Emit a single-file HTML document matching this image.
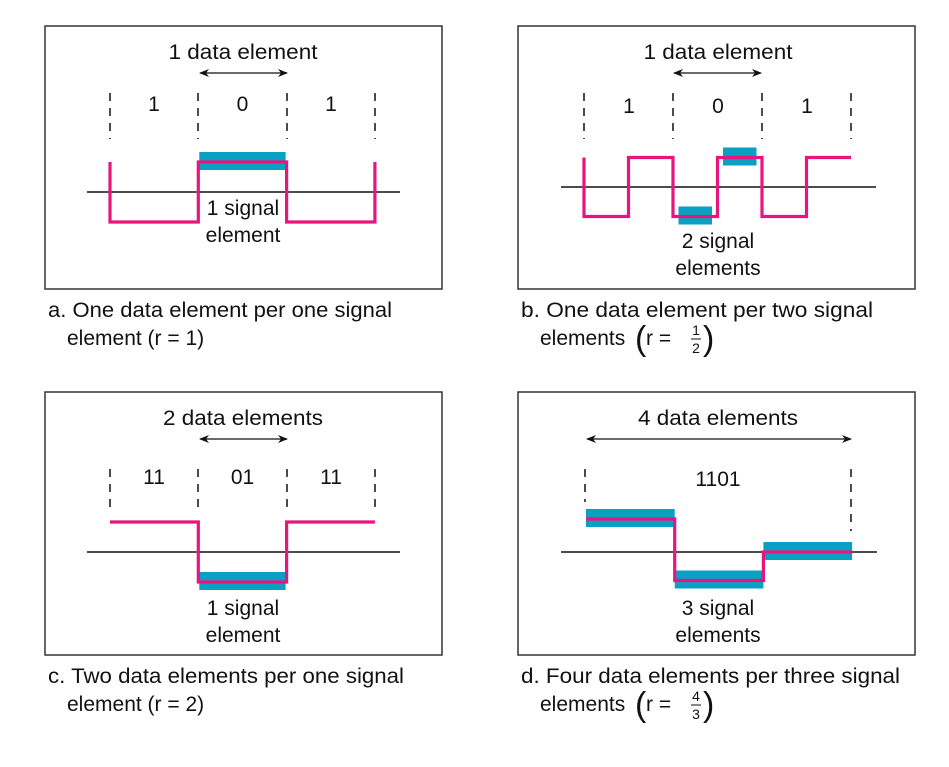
<!DOCTYPE html>
<html><head><meta charset="utf-8"><style>
html,body{margin:0;padding:0;background:#fff;}
svg{display:block;font-family:"Liberation Sans",sans-serif;}
</style></head><body>
<svg id="fig" width="949" height="767" viewBox="0 0 949 767">
<defs>
<marker id="ah" markerWidth="10" markerHeight="8" refX="9" refY="4" orient="auto-start-reverse" markerUnits="userSpaceOnUse"><path d="M0,0 L10,4 L0,8 L3,4 Z" fill="#111"/></marker>
</defs>
<g id="root"></g>
</svg>
<script>
// Signal levels (units of amplitude above/below the axis) per panel
const levelsA = [-1, 1, -1];
const levelsB = [-1, 1, -1, 1, -1, 1];
const levelsC = [1, -1, 1];
const levelsD = [1.1, -0.95, 0];
const bitsA = ["1", "0", "1"];
const bitsB = ["1", "0", "1"];
const bitsC = ["11", "01", "11"];
const bitsD = ["1101"];

const NS = "http://www.w3.org/2000/svg";
const root = document.getElementById("root");
const PINK = "#e8157f", CYAN = "#0aa0c4";
function mk(tag, attrs, parent) {
  const e = document.createElementNS(NS, tag);
  for (const k in attrs) e.setAttribute(k, attrs[k]);
  (parent || root).appendChild(e);
  return e;
}
function txt(x, y, s, parent, anchor, size, len) {
  const a = {x: x, y: y, "font-size": size || 21, "text-anchor": anchor || "middle", fill: "#111"};
  if (len) { a.textLength = len; a.lengthAdjust = "spacingAndGlyphs"; }
  const t = mk("text", a, parent);
  t.textContent = s;
  return t;
}

function panel(cfg) {
  const g = mk("g", {});
  
  
  const box = mk("rect", {x: cfg.bx, y: cfg.by, width: 397, height: 263, fill: "none", stroke: "#333", "stroke-width": 1.5}, g);
  
  
  const x0 = cfg.x0, w = cfg.segW;
  const xs = i => x0 + i * w;
  const ys = v => cfg.axisY - v * cfg.amp;
  const t = txt(cfg.titleX, cfg.by + 33, cfg.title, g, "middle", 21, cfg.titleLen);
  
  
  const ar = mk("line", {x1: cfg.arrow[0], x2: cfg.arrow[1], y1: cfg.by + 47, y2: cfg.by + 47, stroke: "#111", "stroke-width": 1.3, "marker-start": "url(#ah)", "marker-end": "url(#ah)"}, g);
  
  
  cfg.dashes.forEach(d => {
    const l = mk("line", {x1: d[0], x2: d[0], y1: d[1], y2: d[2], stroke: "#111", "stroke-width": 1.5, "stroke-dasharray": "8,7"}, g);
    
    
  });
  cfg.bits.forEach((b, i) => {
    const bt = txt(cfg.bitX(i), cfg.bitY, b, g);
    
    
  });
  const ax = mk("line", {x1: cfg.axis[0], x2: cfg.axis[1], y1: cfg.axisY, y2: cfg.axisY, stroke: "#111", "stroke-width": 1.6}, g);
  
  
  cfg.bars.forEach(bi => {
    const v = cfg.levels[bi];
    const r = mk("rect", {x: xs(bi) + cfg.barInset, y: ys(v) - 10, width: w - 2 * cfg.barInset, height: 18, fill: CYAN}, g);
    
    
  });
  let d = cfg.start !== null ? `M${xs(0)},${ys(cfg.start)} L${xs(0)},${ys(cfg.levels[0])}` : `M${xs(0)},${ys(cfg.levels[0])}`;
  cfg.levels.forEach((v, i) => {
    if (i > 0) d += ` L${xs(i)},${ys(v)}`;
    d += ` L${xs(i + 1)},${ys(v)}`;
  });
  if (cfg.end !== null) d += ` L${xs(cfg.levels.length)},${ys(cfg.end)}`;
  const p = mk("path", {d: d, fill: "none", stroke: PINK, "stroke-width": 3.2, "stroke-linejoin": "miter"}, g);
  
  
  const s1 = txt(cfg.sigX, cfg.sigY, cfg.sig[0], g);
  
  
  const s2 = txt(cfg.sigX, cfg.sigY + 27, cfg.sig[1], g);
  
  
  const c1 = txt(cfg.bx + 3, cfg.by + 291, cfg.cap[0], g, "start", 21, cfg.capLen);
  
  
  const c2 = txt(cfg.bx + 22, cfg.by + 319, cfg.cap[1], g, "start", 21);
  
  
  if (cfg.frac) {
    const fx = cfg.bx + 22 + 95;
    const y = cfg.by + 319;
    const lp = txt(fx, y + 5, "(", g, "start", 34);
     
    const rr = txt(fx + 11, y, "r =", g, "start", 21);
     
    const n = txt(fx + 61, y - 10, cfg.frac[0], g, "middle", 14);
     
    const dd = txt(fx + 61, y + 8, cfg.frac[1], g, "middle", 14);
     
    const fl = mk("line", {x1: fx + 56, x2: fx + 66, y1: y - 6, y2: y - 6, stroke: "#111", "stroke-width": 1}, g);
     
    const rp = txt(fx + 68, y + 5, ")", g, "start", 34);
     
  }
}

panel({name: "panel-a", bx: 45, by: 26, x0: 110, segW: 88.3, axisY: 192, amp: 30, levels: levelsA, start: 1, end: 1,
  title: "1 data element", titleX: 243, titleLen: 149, arrow: [200, 287],
  dashes: [110, 198, 287, 375].map(x => [x, 93, 139]), bits: bitsA, bitX: i => 154 + i * 88.5, bitY: 111,
  axis: [87, 400], bars: [1], barInset: 1, sig: ["1 signal", "element"], sigX: 243, sigY: 215,
  cap: ["a. One data element per one signal", "element (r = 1)"], capLen: 344});
panel({name: "panel-b", bx: 518, by: 26, x0: 584, segW: 44.5, axisY: 187, amp: 29.5, levels: levelsB, start: 1, end: null,
  title: "1 data element", titleX: 718, titleLen: 149, arrow: [674, 761],
  dashes: [584, 673, 762, 851].map(x => [x, 93, 139]), bits: bitsB, bitX: i => 629 + i * 89, bitY: 113,
  axis: [561, 876], bars: [2, 3], barInset: 5.5, sig: ["2 signal", "elements"], sigX: 718, sigY: 248,
  cap: ["b. One data element per two signal", "elements"], capLen: 352, frac: ["1", "2"]});
panel({name: "panel-c", bx: 45, by: 392, x0: 110, segW: 88.3, axisY: 552, amp: 30, levels: levelsC, start: null, end: null,
  title: "2 data elements", titleX: 243, titleLen: 160, arrow: [200, 287],
  dashes: [110, 198, 287, 375].map(x => [x, 469, 512]), bits: bitsC, bitX: i => 154 + i * 88.5, bitY: 484,
  axis: [87, 400], bars: [1], barInset: 1, sig: ["1 signal", "element"], sigX: 243, sigY: 615,
  cap: ["c. Two data elements per one signal", "element (r = 2)"], capLen: 356});
panel({name: "panel-d", bx: 518, by: 392, x0: 586, segW: 88.7, axisY: 552, amp: 30, levels: levelsD, start: null, end: null,
  title: "4 data elements", titleX: 718, titleLen: 160, arrow: [587, 851],
  dashes: [[585, 469, 502], [851, 469, 531]], bits: bitsD, bitX: i => 718, bitY: 486,
  axis: [561, 877], bars: [0, 1, 2], barInset: 0, sig: ["3 signal", "elements"], sigX: 718, sigY: 615,
  cap: ["d. Four data elements per three signal", "elements"], capLen: 379, frac: ["4", "3"]});
</script>
</body></html>
